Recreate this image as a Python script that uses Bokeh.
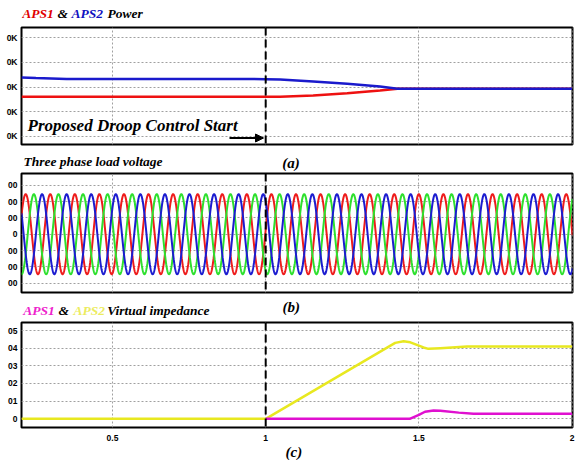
import numpy as np
from bokeh.plotting import figure
from bokeh.models import Range1d, FixedTicker, Span, Label, Arrow, NormalHead
from bokeh.layouts import column
from bokeh.embed import file_html
from bokeh.resources import INLINE

# ---------------- data ----------------
x_ticks = [0.5, 1.0, 1.5, 2.0]
x_tick_labels = ["0.5", "1", "1.5", "2"]
control_start = 1.0

# (a) APS1 & APS2 power (values in K)
power_ticks = [10, 20, 30, 40, 50]
power_tick_labels = ["0K", "0K", "0K", "0K", "0K"]
aps1_power_t = [0.203, 1.0, 1.047, 1.155, 1.266, 1.373, 1.43, 2.0]
aps1_power = [26.0, 26.0, 26.0, 26.5, 27.5, 28.6, 29.3, 29.3]
aps2_power_t = [0.203, 0.25, 0.35, 1.0, 1.047, 1.155, 1.266, 1.373, 1.43, 2.0]
aps2_power = [33.9, 33.7, 33.3, 33.2, 33.05, 32.2, 31.3, 30.2, 29.3, 29.3]

# (b) three phase load voltage (sinusoid parameters)
voltage_ticks = [-300, -200, -100, 0, 100, 200, 300]
voltage_tick_labels = ["00", "00", "00", "0", "00", "00", "00"]
voltage_amplitude = 245.0
voltage_frequency = 12.47
phase_a_peak_time = 0.2167
phase_lags = [0.0, 1.0 / 3.0, 2.0 / 3.0]   # fraction of a period
phase_colors = ["#ee1c1c", "#2ee02e", "#1c1cd0"]

# (c) virtual impedance
imp_ticks = [0, 0.01, 0.02, 0.03, 0.04, 0.05]
imp_tick_labels = ["0", "01", "02", "03", "04", "05"]
aps1_imp_t = [1.0, 1.47, 1.50, 1.52, 1.548, 1.57, 1.63, 1.678, 2.0]
aps1_imp = [0.0, 0.0, 0.0022, 0.0040, 0.0047, 0.0046, 0.0035, 0.0028, 0.0028]
aps2_imp_t = [0.203, 1.0, 1.4225, 1.45, 1.472, 1.515, 1.531, 1.57, 1.657, 2.0]
aps2_imp = [0.0, 0.0, 0.0430, 0.0439, 0.0433, 0.0404, 0.0396, 0.0400, 0.0409, 0.0409]

# ---------------- layout helpers ----------------
W = 581
X0, X1 = 0.203, 2.0013
FRAME_L, FRAME_R = 21.0, 572.0
BL, BR = 21, 9
SERIF = "Liberation Serif"
BASE_SHIFT = 0.33   # baseline correction (fraction of font size)
xr = Range1d(X0, X1)


def sx(px):
    return X0 + (px - FRAME_L) / (FRAME_R - FRAME_L) * (X1 - X0)


def style_axis(ax):
    ax.major_tick_line_color = None
    ax.minor_tick_line_color = None
    ax.major_tick_out = 0
    ax.major_tick_in = 0
    ax.minor_tick_out = 0
    ax.minor_tick_in = 0
    ax.axis_line_color = None
    ax.major_label_text_font = "Liberation Sans"
    ax.major_label_text_font_style = "bold"
    ax.major_label_text_font_size = "8.5px"
    ax.major_label_text_color = "black"


def make_fig(height, top, bottom_border, y0, y1, show_x):
    p = figure(width=W, height=height, x_range=xr, y_range=Range1d(y0, y1),
               output_backend="svg", toolbar_location=None, title=None,
               min_border_left=BL, min_border_right=BR,
               min_border_top=top, min_border_bottom=bottom_border)
    p.outline_line_color = "black"
    p.outline_line_width = 2
    p.background_fill_color = "white"
    p.border_fill_color = "white"
    p.xgrid.ticker = FixedTicker(ticks=x_ticks)
    p.grid.grid_line_color = "#a0a0a0"
    p.grid.grid_line_dash = "2 2"
    p.grid.grid_line_width = 1
    style_axis(p.xaxis[0])
    style_axis(p.yaxis[0])
    p.yaxis.major_label_standoff = 4
    p.xaxis.ticker = FixedTicker(ticks=x_ticks)
    p.xaxis.major_label_overrides = dict(zip(x_ticks, x_tick_labels))
    p.xaxis.major_label_standoff = 7
    if not show_x:
        p.xaxis.visible = False
    p.add_layout(Span(location=control_start, dimension="height", line_color="black",
                      line_width=2, line_dash="8 4"))
    return p


def header(height):
    h = figure(width=W, height=height, x_range=xr, y_range=Range1d(height, 0),
               output_backend="svg", toolbar_location=None, title=None,
               x_axis_location=None, y_axis_location=None,
               min_border_left=BL, min_border_right=BR, min_border_top=0, min_border_bottom=0)
    h.outline_line_color = None
    h.grid.visible = False
    h.background_fill_color = "white"
    h.border_fill_color = "white"
    return h


def size_px(size):
    return float(size.replace("px", ""))


def hdr_text(h, px, py, text, color="black", size="13.5px"):
    h.add_layout(Label(x=sx(px), y=py - BASE_SHIFT * size_px(size), text=text, text_color=color,
                       text_font=SERIF, text_font_style="bold italic",
                       text_font_size=size, text_baseline="alphabetic",
                       text_align="left"))


def ymap(fig_top_px, fig_bot_px, y0, y1):
    def f(px):
        return y1 - (px - fig_top_px) / (fig_bot_px - fig_top_px) * (y1 - y0)
    return f


# ---------------- header (a) ----------------
hA = header(25)
hdr_text(hA, 21.7, 17.3, "APS1", "#e00000")
hdr_text(hA, 57, 17.3, "&")
hdr_text(hA, 71, 17.3, "APS2", "#1010c0")
hdr_text(hA, 107, 17.3, "Power")

# ---------------- panel (a) ----------------
YA = (6.63, 54.19)
pa = make_fig(123, 2, 4, YA[0], YA[1], False)
pa.yaxis.ticker = FixedTicker(ticks=power_ticks)
pa.yaxis.major_label_overrides = dict(zip(power_ticks, power_tick_labels))
pa.line(aps1_power_t, aps1_power, line_color="#ee1111", line_width=2.5)
pa.line(aps2_power_t, aps2_power, line_color="#1a1acc", line_width=2.5)
fa = ymap(27, 144, YA[0], YA[1])
pa.add_layout(Label(x=sx(27), y=fa(130.7 - BASE_SHIFT * 17), text="Proposed Droop Control Start",
                    text_font=SERIF, text_font_style="bold italic", text_font_size="17px",
                    text_baseline="alphabetic", text_color="black"))
pa.add_layout(Arrow(end=NormalHead(size=8, fill_color="black", line_color="black"),
                    x_start=sx(229), y_start=fa(137.5), x_end=sx(263), y_end=fa(137.5),
                    line_color="black", line_width=2))

# ---------------- header (b) ----------------
hB = header(23)
hdr_text(hB, 23, 17, "Three phase load voltage")
hdr_text(hB, 281.7, 19, "(a)", size="15px")

# ---------------- panel (b) ----------------
YB = (-356.9, 371.6)
pb = make_fig(123, 2, 2, YB[0], YB[1], False)
pb.yaxis.ticker = FixedTicker(ticks=voltage_ticks)
pb.yaxis.major_label_overrides = dict(zip(voltage_ticks, voltage_tick_labels))
t = np.linspace(X0, X1, 2400)
for lag, col in zip(phase_lags, phase_colors):
    v = voltage_amplitude * np.cos(2 * np.pi * (voltage_frequency * (t - phase_a_peak_time) - lag))
    pb.line(t, v, line_color=col, line_width=2)

# ---------------- header (c) ----------------
hC = header(26)
hdr_text(hC, 22.7, 20, "APS1", "#ee22cc")
hdr_text(hC, 58, 20, "&")
hdr_text(hC, 73, 20, "APS2", "#ecec60")
hdr_text(hC, 106.7, 20, "Virtual impedance")
hdr_text(hC, 282, 17.5, "(b)", size="15px")

# ---------------- panel (c) ----------------
YC = (-0.00492, 0.05453)
pc = make_fig(125, 2, 18, YC[0], YC[1], True)
pc.yaxis.ticker = FixedTicker(ticks=imp_ticks)
pc.yaxis.major_label_overrides = dict(zip(imp_ticks, imp_tick_labels))
pc.line(aps2_imp_t, aps2_imp, line_color="#e8e820", line_width=2.5)
pc.line(aps1_imp_t, aps1_imp, line_color="#e010d0", line_width=2.5)

# ---------------- footer ----------------
hD = header(15)
hdr_text(hD, 285, 11, "(c)", size="15px")

layout = column(hA, pa, hB, pb, hC, pc, hD, spacing=0)
open("out.html", "w").write(file_html(layout, INLINE))
